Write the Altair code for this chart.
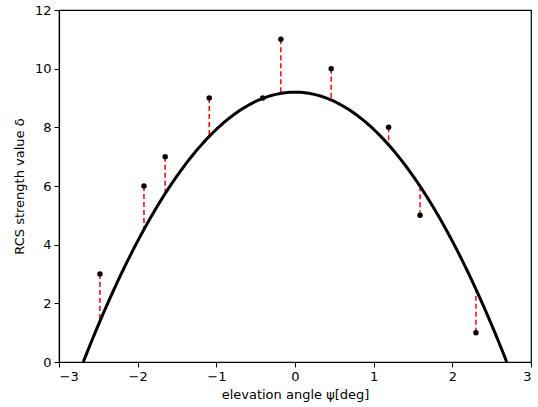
import altair as alt
import pandas as pd
import numpy as np

# measured samples
psi = [-2.48, -1.92, -1.65, -1.09, -0.41, -0.18, 0.46, 1.19, 1.59, 2.30]
delta = [3, 6, 7, 9, 9, 11, 10, 8, 5, 1]

# fitted model coefficients: delta = c0 + c2 * psi^2
c0 = 9.2
c2 = -1.27
x_zero = (c0 / -c2) ** 0.5

xs = np.linspace(-x_zero, x_zero, 200)
curve = pd.DataFrame({"x": xs, "y": c0 + c2 * xs ** 2})

pts = pd.DataFrame({"x": psi, "y": delta})
pts["fit"] = c0 + c2 * pts["x"] ** 2

xscale = alt.Scale(domain=[-3, 3], nice=False, zero=False)
yscale = alt.Scale(domain=[0, 12], nice=False, zero=False)

axis_common = dict(
    labelFont="DejaVu Sans", labelFontSize=13, labelColor="black",
    titleFont="DejaVu Sans", titleFontSize=13, titleColor="black", titleFontWeight="normal",
    tickColor="black", tickSize=5, tickWidth=1, domain=True, domainColor="black", domainWidth=1.2,
    grid=False, labelPadding=3,
)

xenc = alt.X("x:Q", scale=xscale, axis=alt.Axis(values=[-3, -2, -1, 0, 1, 2, 3], format="d",
                                                 title="elevation angle ψ[deg]", titlePadding=5, **axis_common))
yenc = alt.Y("y:Q", scale=yscale, axis=alt.Axis(values=[0, 2, 4, 6, 8, 10, 12], format="d",
                                                 title="RCS strength value δ", titlePadding=8, **axis_common))

resid = alt.Chart(pts).mark_rule(color="#ff0000", strokeWidth=1.5, strokeDash=[5, 3]).encode(
    x=xenc, y=yenc, y2="fit:Q")

line = alt.Chart(curve).mark_line(color="black", strokeWidth=3, clip=True).encode(x=xenc, y=yenc)

dots = alt.Chart(pts).mark_circle(color="black", opacity=1, size=30).encode(x=xenc, y=yenc)

chart = alt.layer(resid, line, dots).properties(
    width=472, height=352,
    autosize=alt.AutoSizeParams(type="none"),
    padding={"left": 59, "top": 10, "right": 7, "bottom": 45},
    background="white",
).configure_view(stroke="#000000", strokeWidth=1.2, strokeOpacity=1)

chart.save("out.html", embed_options={"renderer": "svg", "actions": False})
